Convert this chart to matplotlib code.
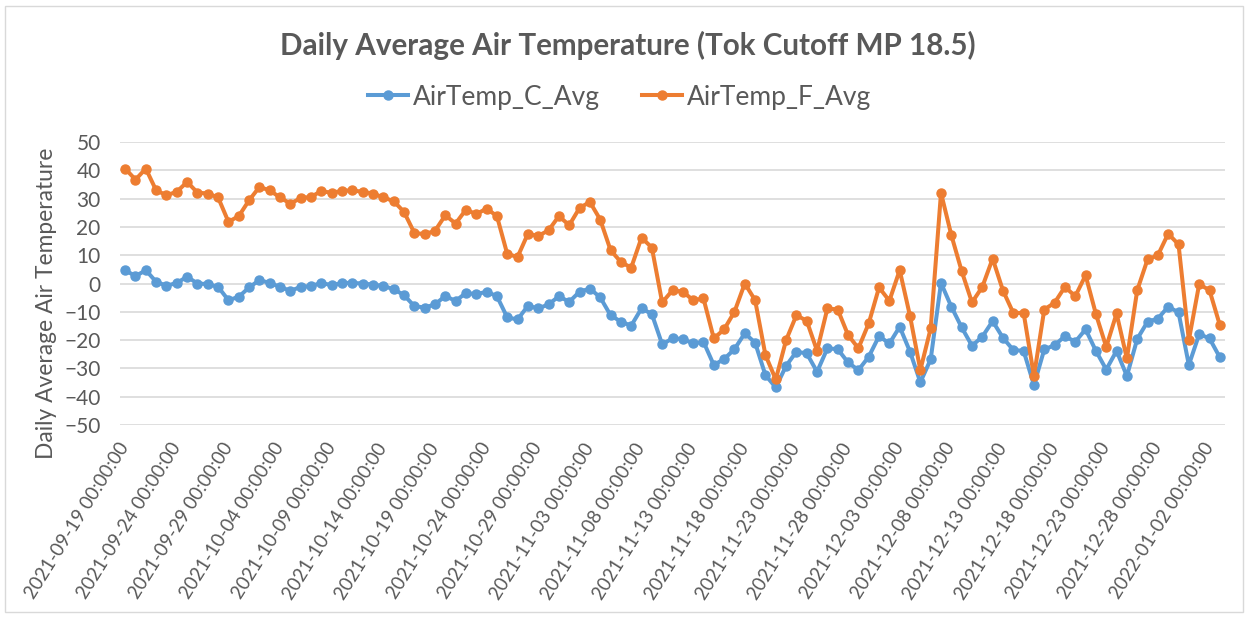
import pandas as pd
import matplotlib.pyplot as plt
from matplotlib.patches import Rectangle

# daily averages, 2021-09-19 .. 2022-01-03
dates = pd.date_range("2021-09-19", periods=107, freq="D")

temp_c = [
    4.7, 2.6, 4.7, 0.6, -0.8, 0.2, 2.4, 0.0, -0.2, -1.2,
    -5.9, -4.7, -1.4, 1.2, 0.2, -1.2, -2.6, -1.2, -0.9, 0.2,
    -0.6, 0.2, 0.2, 0.0, -0.4, -0.9, -2.0, -4.1, -8.0, -8.5,
    -7.4, -4.4, -6.2, -3.3, -3.8, -2.9, -4.5, -12.0, -12.7, -7.9,
    -8.8, -7.4, -4.5, -6.5, -2.9, -1.8, -4.9, -11.2, -13.5, -14.9,
    -8.8, -10.8, -21.5, -19.4, -19.6, -21.2, -20.6, -28.8, -26.7, -23.2,
    -17.6, -20.9, -32.4, -36.7, -29.1, -24.1, -24.7, -31.2, -22.9, -23.2,
    -27.9, -30.6, -25.9, -18.6, -21.2, -15.3, -24.1, -34.9, -26.8, 0.2,
    -8.2, -15.5, -22.0, -18.8, -13.3, -19.2, -23.5, -23.8, -35.9, -23.3,
    -21.8, -18.6, -20.6, -16.2, -23.8, -30.4, -23.8, -32.7, -19.6, -13.5,
    -12.4, -8.2, -10.2, -28.8, -17.9, -19.4, -26.1,
]

temp_f = [
    40.6, 36.7, 40.6, 32.9, 31.2, 32.4, 35.9, 32.1, 31.8, 30.4,
    21.8, 23.8, 29.4, 34.1, 32.9, 30.4, 28.2, 30.2, 30.6, 32.7,
    32.0, 32.8, 32.9, 32.4, 31.8, 30.4, 29.1, 25.3, 17.9, 17.4,
    18.6, 24.1, 21.2, 26.1, 24.5, 26.5, 23.8, 10.4, 9.4, 17.6,
    16.8, 18.8, 23.8, 20.6, 26.7, 28.8, 22.6, 11.8, 7.6, 5.6,
    16.2, 12.7, -6.7, -2.4, -2.9, -5.9, -5.3, -19.4, -16.2, -10.0,
    0.0, -5.9, -25.3, -33.9, -20.0, -11.2, -13.2, -23.8, -8.8, -9.2,
    -18.2, -22.9, -14.1, -1.4, -6.1, 4.7, -11.5, -30.6, -15.9, 32.0,
    17.1, 4.4, -6.7, -1.2, 8.8, -2.5, -10.4, -10.4, -32.7, -9.2,
    -6.8, -1.2, -4.5, 2.9, -10.8, -22.4, -10.6, -26.5, -2.4, 8.5,
    10.0, 17.6, 13.8, -20.0, -0.2, -2.4, -14.7,
]

blue = "#5B9BD5"
orange = "#ED7D31"
grey_text = "#595959"

plt.rcParams["font.family"] = ["Lato", "DejaVu Sans"]

fig = plt.figure(figsize=(12.49, 6.18), dpi=100)
ax = fig.add_axes([120 / 1249, 1 - 425 / 618, 1105 / 1249, 283 / 618])

x = range(len(dates))
ax.plot(x, temp_c, color=blue, lw=2.9, marker="o", ms=6.5, label="AirTemp_C_Avg")
ax.plot(x, temp_f, color=orange, lw=2.9, marker="o", ms=6.5, label="AirTemp_F_Avg")

ax.set_xlim(-0.5, len(dates) - 0.5)
ax.set_ylim(-50, 50)
ax.set_yticks(range(-50, 51, 10))
ax.grid(axis="y", color="#D9D9D9", lw=1.2)
ax.set_axisbelow(True)
for s in ax.spines.values():
    s.set_visible(False)

tick_idx = list(range(0, len(dates), 5))
ax.set_xticks(tick_idx)
ax.set_xticklabels([dates[i].strftime("%Y-%m-%d 00:00:00") for i in tick_idx],
                   rotation=58, ha="right", va="center", rotation_mode="anchor")
ax.tick_params(axis="x", length=0, pad=14, labelsize=13.5, labelcolor=grey_text)
ax.tick_params(axis="y", length=0, pad=14, labelsize=15, labelcolor=grey_text)

fig.text(47 / 1249, 1 - 303 / 618, "Daily Average Air Temperature", rotation=90,
         ha="center", va="center", fontsize=16.4, color=grey_text)
fig.text(628 / 1249, 1 - 45 / 618, "Daily Average Air Temperature (Tok Cutoff MP 18.5)",
         ha="center", va="center", fontsize=21.3, fontweight="bold", color=grey_text)

fig.legend(loc="center", bbox_to_anchor=(620 / 1249, 1 - 97 / 618), ncol=2,
           frameon=False, fontsize=19, labelcolor=grey_text, handlelength=1.5,
           handletextpad=0.2, columnspacing=1.6)

fig.patches.append(Rectangle((5 / 1249, 6 / 618), 1238 / 1249, 606 / 618,
                             transform=fig.transFigure, fill=False,
                             edgecolor="#D9D9D9", lw=1))

fig.savefig("out.png", dpi=100)
